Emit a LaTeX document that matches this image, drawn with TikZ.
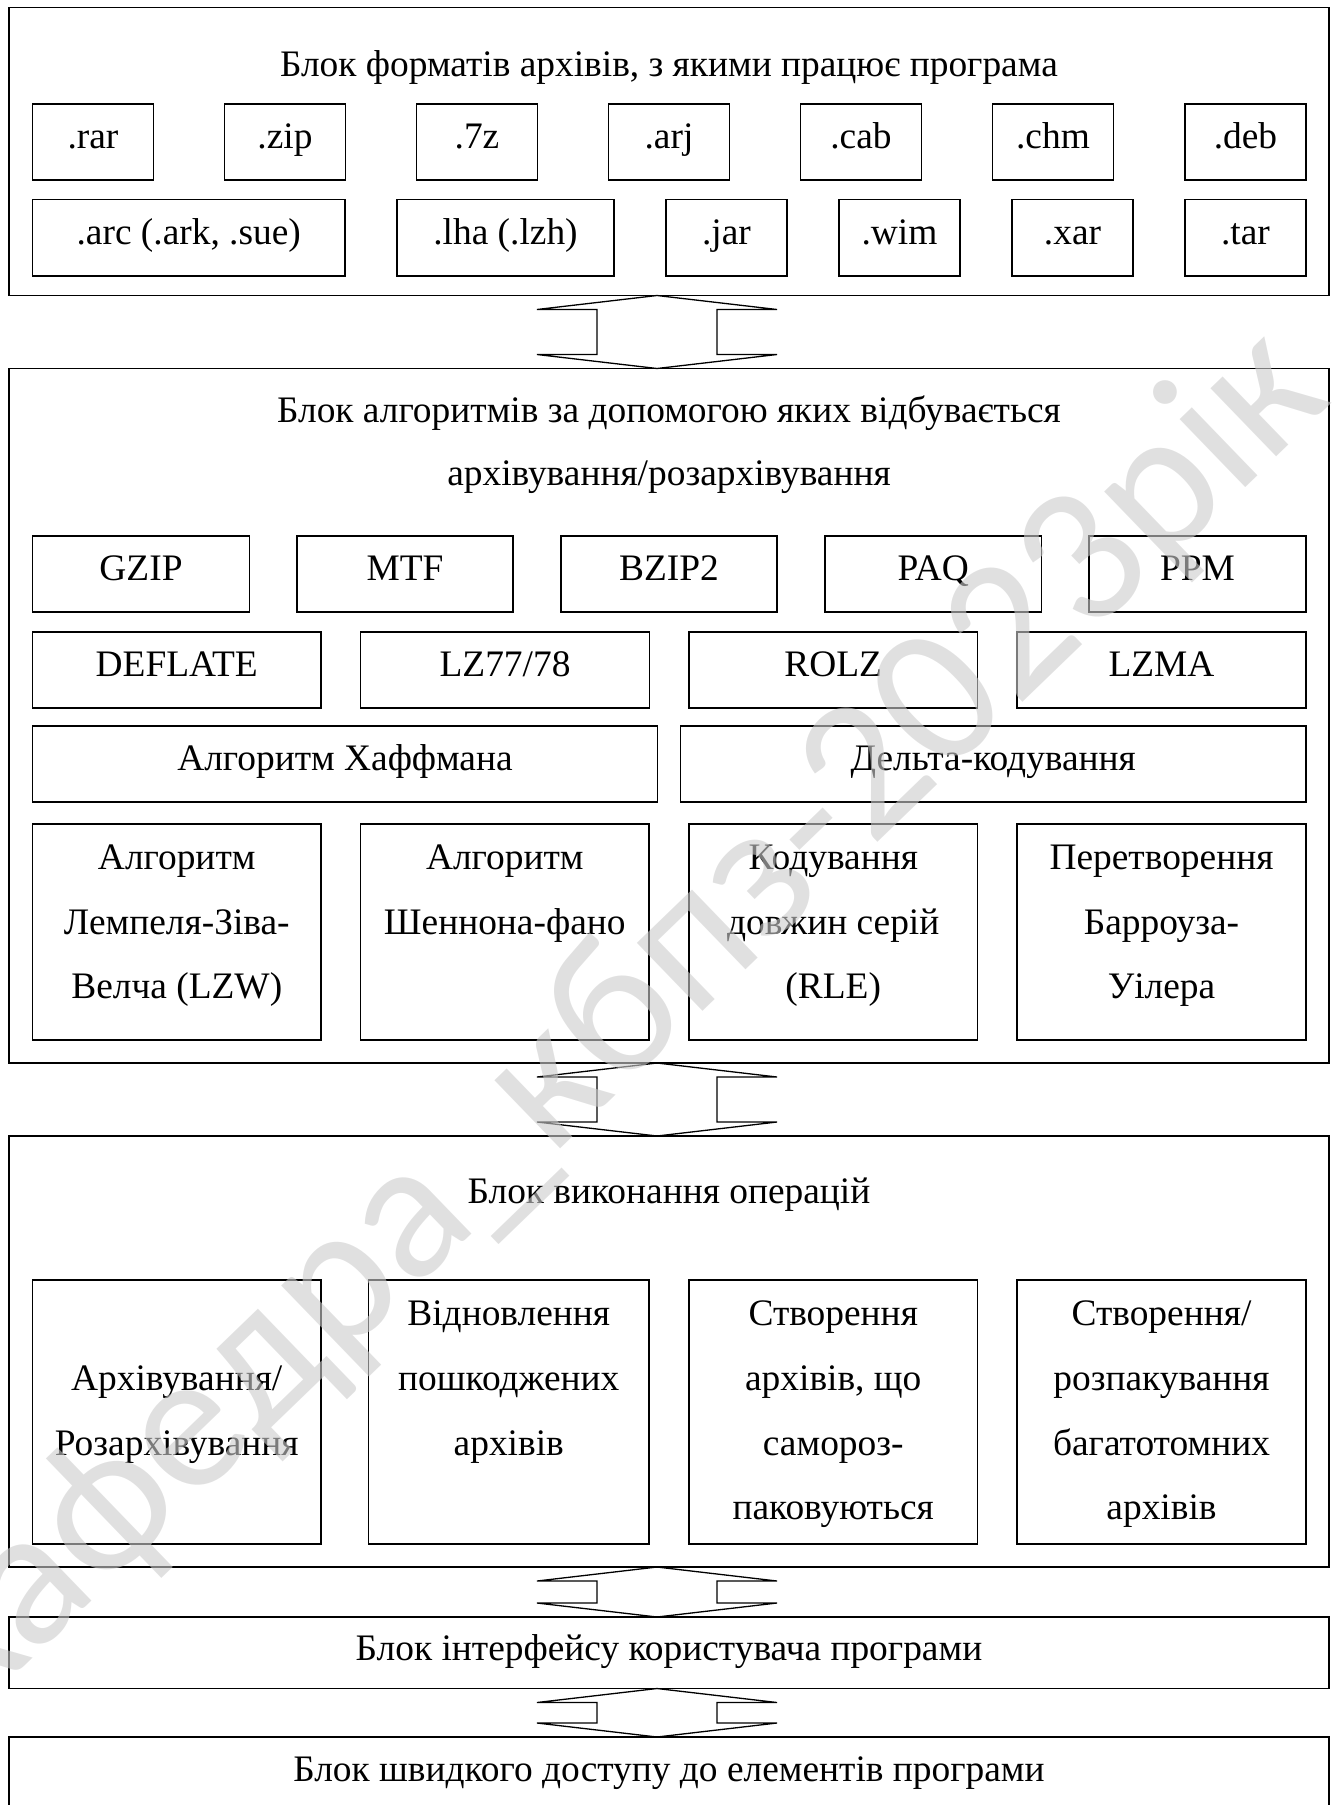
\documentclass[tikz,border=0pt]{standalone}
\usepackage{fontspec}
\setmainfont{Liberation Serif}
\newfontfamily\wmfont{Carlito}
\usetikzlibrary{calc}
\definecolor{wmgray}{gray}{0.8}
\newcommand\dfont{\fontsize{18.7}{22}\selectfont}
\newcommand\cellbox[6]{\node[cell, minimum width={(#4-#2)*0.5pt}, minimum height={(#5-#3)*0.5pt}] (#1) at ({(#2+#4)/2},{(#3+#5)/2}) {#6};}
\newcommand\outerbox[5]{\node[frame, minimum width={(#4-#2)*0.5pt}, minimum height={(#5-#3)*0.5pt}] (#1) at ({(#2+#4)/2},{(#3+#5)/2}) {};}
\newcommand\txt[4]{\node[lbl] (#1) at (#2,#3) {#4};}
\newcommand\dblarrow[2]{%
  \path ($(#1.south)+(-12,0)$) coordinate (#1-tip) ($(#2.north)+(-12,0)$) coordinate (#2-tip);
  \draw[arr] (#1-tip) -- ([shift={(120,14)}]#1-tip) -- ([shift={(60,14)}]#1-tip)
    -- ([shift={(60,-14)}]#2-tip) -- ([shift={(120,-14)}]#2-tip) -- (#2-tip)
    -- ([shift={(-120,-14)}]#2-tip) -- ([shift={(-60,-14)}]#2-tip)
    -- ([shift={(-60,14)}]#1-tip) -- ([shift={(-120,14)}]#1-tip) -- cycle;}
\begin{document}
\begin{tikzpicture}[x=0.5pt,y=-0.5pt,
  frame/.style={draw, line width=0.65pt, inner sep=0pt, outer sep=0pt},
  cell/.style={frame, font=\dfont, text height=8pt, text depth=1.4pt},
  lbl/.style={anchor=base, inner sep=0pt, font=\dfont},
  arr/.style={draw, line width=0.65pt, line join=miter},
  wm/.style={font=\wmfont\fontsize{99}{99}\selectfont, text=wmgray, opacity=0.6, rotate=44, inner sep=0pt}]
\useasboundingbox (0,0) rectangle (1338,1805);
\clip (0,0) rectangle (1338,1805);

% outer blocks
\outerbox{fmt}{9}{7.5}{1329}{295.5}
\outerbox{alg}{9}{368.5}{1329}{1063}
\outerbox{ops}{9}{1136}{1329}{1567}
\outerbox{ui}{9}{1617}{1329}{1688.5}
\outerbox{quick}{9}{1737}{1329}{1840}

% titles
\txt{fmtT}{669}{76}{Блок форматів архівів, з якими працює програма}
\txt{algTa}{669}{422}{Блок алгоритмів за допомогою яких відбувається}
\txt{algTb}{669}{485}{архівування/розархівування}
\txt{opsT}{669}{1203}{Блок виконання операцій}
\txt{uiT}{669}{1660.5}{Блок інтерфейсу користувача програми}
\txt{quickT}{669}{1781.5}{Блок швидкого доступу до елементів програми}

% formats row 1
\cellbox{rar}{32.5}{104}{153.5}{180}{.rar}
\cellbox{zip}{224.5}{104}{345.5}{180}{.zip}
\cellbox{sz}{416.5}{104}{537.5}{180}{.7z}
\cellbox{arj}{608.5}{104}{729.5}{180}{.arj}
\cellbox{cab}{800.5}{104}{921.5}{180}{.cab}
\cellbox{chm}{992.5}{104}{1113.5}{180}{.chm}
\cellbox{deb}{1185}{104}{1306}{180}{.deb}
% formats row 2
\cellbox{arc}{32.5}{199.5}{345}{276}{.arc (.ark, .sue)}
\cellbox{lha}{397}{199.5}{614}{276}{.lha (.lzh)}
\cellbox{jar}{666}{199.5}{787}{276}{.jar}
\cellbox{wim}{839}{199.5}{960}{276}{.wim}
\cellbox{xar}{1012}{199.5}{1133}{276}{.xar}
\cellbox{tar}{1185}{199.5}{1306}{276}{.tar}

% algorithms
\cellbox{gzip}{32.5}{536}{249.5}{612}{GZIP}
\cellbox{mtf}{297}{536}{513}{612}{MTF}
\cellbox{bzip}{561}{536}{777}{612}{BZIP2}
\cellbox{paq}{825}{536}{1041.5}{612}{PAQ}
\cellbox{ppm}{1089}{536}{1306}{612}{PPM}
\cellbox{deflate}{32.5}{632}{321}{708}{DEFLATE}
\cellbox{lz}{360.5}{632}{649.5}{708}{LZ77/78}
\cellbox{rolz}{689}{632}{977.5}{708}{ROLZ}
\cellbox{lzma}{1017}{632}{1306}{708}{LZMA}
\cellbox{huff}{32.5}{726}{657.5}{802}{Алгоритм Хаффмана}
\cellbox{delta}{680.5}{726}{1306}{802}{Дельта-кодування}
\cellbox{lzw}{32.5}{824}{321}{1040}{}
\cellbox{sf}{360.5}{824}{649}{1040}{}
\cellbox{rle}{689}{824}{977.5}{1040}{}
\cellbox{bwt}{1017}{824}{1306}{1040}{}
\txt{lzwA}{176.75}{869}{Алгоритм}
\txt{lzwB}{176.75}{934}{Лемпеля-Зіва-}
\txt{lzwC}{176.75}{998}{Велча (LZW)}
\txt{sfA}{504.75}{869}{Алгоритм}
\txt{sfB}{504.75}{934}{Шеннона-фано}
\txt{rleA}{833.25}{869}{Кодування}
\txt{rleB}{833.25}{934}{довжин серій}
\txt{rleC}{833.25}{998}{(RLE)}
\txt{bwtA}{1161.5}{869}{Перетворення}
\txt{bwtB}{1161.5}{934}{Барроуза-}
\txt{bwtC}{1161.5}{998}{Уілера}

% operations
\cellbox{arch}{32.5}{1280}{321}{1544}{}
\cellbox{rep}{368.5}{1280}{649}{1544}{}
\cellbox{sfx}{689}{1280}{977.5}{1544}{}
\cellbox{vol}{1017}{1280}{1306}{1544}{}
\txt{archA}{176.75}{1390}{Архівування/}
\txt{archB}{176.75}{1455}{Розархівування}
\txt{repA}{508.75}{1325}{Відновлення}
\txt{repB}{508.75}{1390}{пошкоджених}
\txt{repC}{508.75}{1455}{архівів}
\txt{sfxA}{833.25}{1325}{Створення}
\txt{sfxB}{833.25}{1390}{архівів, що}
\txt{sfxC}{833.25}{1455}{самороз-}
\txt{sfxD}{833.25}{1519}{паковуються}
\txt{volA}{1161.5}{1325}{Створення/}
\txt{volB}{1161.5}{1390}{розпакування}
\txt{volC}{1161.5}{1455}{багатотомних}
\txt{volD}{1161.5}{1519}{архівів}

% block arrows
\dblarrow{fmt}{alg}
\dblarrow{alg}{ops}
\dblarrow{ops}{ui}
\dblarrow{ui}{quick}

% watermark
\node[wm] (mark) at (615,1024) {кафедра\_кбпз-2023рік};
\end{tikzpicture}
\end{document}
